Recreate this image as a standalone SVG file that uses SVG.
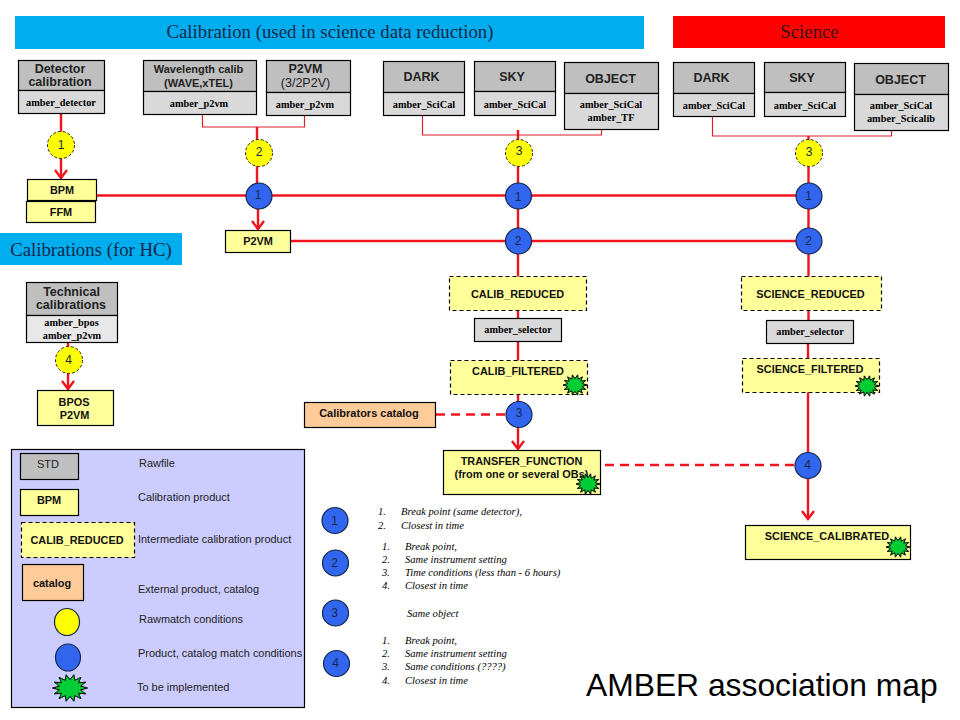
<svg xmlns="http://www.w3.org/2000/svg" xmlns:xlink="http://www.w3.org/1999/xlink" width="960" height="720" viewBox="0 0 960 720">
<style>
text{font-family:"Liberation Sans",Arial,sans-serif;fill:#000}
.m{text-anchor:middle}
.ban{font-family:"Liberation Serif","Times New Roman",serif;font-size:18.8px;fill:#14284b;text-anchor:middle}
.box{stroke:#000;stroke-width:1.2}
.h{fill:#bfbfbf}
.l{fill:#d9d9d9}
.y{fill:#ffff99}
.d{stroke-dasharray:4 3}
.o{fill:#ffcc99}
.hd{font-size:12.5px;font-weight:bold;fill:#222;text-anchor:middle}
.hw{font-size:11px;font-weight:bold;fill:#222;text-anchor:middle}
.tool{font-family:"Liberation Serif","Times New Roman",serif;font-size:10.3px;font-weight:bold;text-anchor:middle}
.p{font-size:10.9px;font-weight:bold;text-anchor:middle;fill:#111}
.ci{stroke:#14284b;stroke-width:1.2}
.yc{fill:#ffff00;stroke:#222;stroke-width:1;stroke-dasharray:3 2}
.bc{fill:#3366ee}
.n{font-size:12px;fill:#14284b;text-anchor:middle}
.leg{font-size:10.95px;fill:#222}
.it{font-family:"Liberation Serif","Times New Roman",serif;font-size:10.6px;font-style:italic}
.r{stroke:#f0141e;stroke-width:2.4;fill:none}
.t{stroke:#e0202a;stroke-width:1.2;fill:none}
.da{stroke-dasharray:9 6}
.star{fill:#00cc33;stroke:#000;stroke-width:1;vector-effect:non-scaling-stroke}
</style>
<defs>
<marker id="a" markerUnits="userSpaceOnUse" markerWidth="16" markerHeight="16" refX="13" refY="8" orient="auto" viewBox="0 0 16 16"><path d="M5,2 L13,8 L5,14" fill="none" stroke="#f0141e" stroke-width="2.4"/></marker>
<polygon id="s" class="star" points="13,0 7.9,1.8 11.7,5.6 6.3,5 8.1,10.2 3.5,7.3 2.9,12.7 0,8 -2.9,12.7 -3.5,7.3 -8.1,10.2 -6.3,5 -11.7,5.6 -7.9,1.8 -13,0 -7.9,-1.8 -11.7,-5.6 -6.3,-5 -8.1,-10.2 -3.5,-7.3 -2.9,-12.7 0,-8 2.9,-12.7 3.5,-7.3 8.1,-10.2 6.3,-5 11.7,-5.6 7.9,-1.8"/>
</defs>
<rect width="960" height="720" fill="#fff"/>

<g id="banners">
<g id="banner-calibration"><rect x="15" y="16" width="629" height="33" fill="#00aeef"/><text class="ban" x="330" y="38">Calibration (used in science data reduction)</text></g>
<g id="banner-science"><rect x="673" y="16" width="272" height="32" fill="#ff0000"/><text class="ban" x="809.500" y="38" style="fill:#3a1010">Science</text></g>
<g id="banner-hc"><rect x="0" y="233" width="182" height="32" fill="#00aeef"/><text class="ban" x="91" y="256">Calibrations (for HC)</text></g>
</g>

<g id="connectors">
<path class="r" d="M61,113V178" marker-end="url(#a)"/>
<path class="t" d="M202.500,114V127H304.500V115"/>
<path class="r" d="M257,127V196"/>
<path class="r" d="M258,196V229" marker-end="url(#a)"/>
<path class="r" d="M96,195.500H808"/>
<path class="r" d="M290,241H808"/>
<path class="t" d="M422.500,115V135H601.500V129"/>
<path class="r" d="M518,130V449" marker-end="url(#a)"/>
<path class="r da" d="M436,414.500H505"/>
<path class="t" d="M712.500,116V136H891.500V130"/>
<path class="r" d="M808.500,136V320"/>
<path class="r" d="M808,343V519" marker-end="url(#a)"/>
<path class="r da" d="M605,465H795"/>
<path class="r" d="M68,343V389" marker-end="url(#a)"/>
</g>

<g id="n-detector"><rect class="box h" x="18.500" y="60.500" width="86" height="30"/><rect class="box l" x="18.500" y="90.500" width="86" height="23"/><text class="hd" x="60" y="72.500">Detector</text><text class="hd" x="60" y="86">calibration</text><text class="tool" x="61" y="106">amber_detector</text></g>
<g id="n-wave"><rect class="box h" x="143.500" y="60.500" width="113" height="31"/><rect class="box l" x="143.500" y="91.500" width="113" height="23"/><text class="hw" x="198.500" y="73">Wavelength calib</text><text class="hw" x="198.500" y="87">(WAVE,xTEL)</text><text class="tool" x="199" y="107">amber_p2vm</text></g>
<g id="n-p2vm-raw"><rect class="box h" x="266.500" y="60.500" width="84" height="32"/><rect class="box l" x="266.500" y="92.500" width="84" height="23"/><text class="hd" x="305.500" y="73">P2VM</text><text class="hd" x="305.500" y="87" style="font-weight:normal">(3/2P2V)</text><text class="tool" x="305" y="108">amber_p2vm</text></g>
<g id="n-dark1"><rect class="box h" x="383.500" y="61.500" width="81" height="31"/><rect class="box l" x="383.500" y="92.500" width="81" height="23"/><text class="hd" x="421.500" y="81">DARK</text><text class="tool" x="424" y="108">amber_SciCal</text></g>
<g id="n-sky1"><rect class="box h" x="474.500" y="61.500" width="81" height="30"/><rect class="box l" x="474.500" y="91.500" width="81" height="24"/><text class="hd" x="512" y="81">SKY</text><text class="tool" x="515" y="108">amber_SciCal</text></g>
<g id="n-obj1"><rect class="box h" x="564.500" y="62.500" width="94" height="31"/><rect class="box l" x="564.500" y="93.500" width="94" height="36"/><text class="hd" x="610.500" y="83">OBJECT</text><text class="tool" x="611" y="108">amber_SciCal</text><text class="tool" x="611" y="121">amber_TF</text></g>
<g id="n-dark2"><rect class="box h" x="673.500" y="62.500" width="81" height="31"/><rect class="box l" x="673.500" y="93.500" width="81" height="23"/><text class="hd" x="711.500" y="82">DARK</text><text class="tool" x="714" y="109">amber_SciCal</text></g>
<g id="n-sky2"><rect class="box h" x="764.500" y="62.500" width="81" height="30"/><rect class="box l" x="764.500" y="92.500" width="81" height="24"/><text class="hd" x="802" y="82">SKY</text><text class="tool" x="805" y="109">amber_SciCal</text></g>
<g id="n-obj2"><rect class="box h" x="854.500" y="63.500" width="94" height="31"/><rect class="box l" x="854.500" y="94.500" width="94" height="36"/><text class="hd" x="900.500" y="84">OBJECT</text><text class="tool" x="901" y="109">amber_SciCal</text><text class="tool" x="901" y="122">amber_Scicalib</text></g>

<g id="n-bpm"><rect class="box y" x="27.500" y="179.500" width="69" height="21"/><text class="p" x="62" y="194">BPM</text></g>
<g id="n-ffm"><rect class="box y" x="26.500" y="201.500" width="69" height="21"/><text class="p" x="61" y="216">FFM</text></g>
<g id="n-p2vm"><rect class="box y" x="225.500" y="230.500" width="65" height="22"/><text class="p" x="258" y="245">P2VM</text></g>

<g id="c-y1"><circle class="yc" cx="61" cy="145" r="13.500"/><text class="n" x="61" y="149">1</text></g>
<g id="c-y2"><circle class="yc" cx="259" cy="153" r="13.500"/><text class="n" x="259" y="156">2</text></g>
<g id="c-y3a"><circle class="yc" cx="519" cy="153" r="13.500"/><text class="n" x="519" y="155">3</text></g>
<g id="c-y3b"><circle class="yc" cx="809" cy="153" r="13.500"/><text class="n" x="809" y="156">3</text></g>
<g id="c-b1a"><circle class="ci bc" cx="259" cy="196" r="13"/><text class="n" x="258" y="199">1</text></g>
<g id="c-b1b"><circle class="ci bc" cx="518.500" cy="196" r="13"/><text class="n" x="518" y="201">1</text></g>
<g id="c-b1c"><circle class="ci bc" cx="809" cy="196" r="13"/><text class="n" x="808.500" y="200">1</text></g>
<g id="c-b2a"><circle class="ci bc" cx="518.500" cy="241" r="13"/><text class="n" x="518" y="245">2</text></g>
<g id="c-b2b"><circle class="ci bc" cx="809" cy="241" r="13"/><text class="n" x="808.500" y="245">2</text></g>
<g id="c-b3"><circle class="ci bc" cx="519" cy="414.500" r="13"/><text class="n" x="519" y="417">3</text></g>
<g id="c-b4"><circle class="ci bc" cx="808" cy="465.500" r="13"/><text class="n" x="807.500" y="469">4</text></g>

<g id="n-calib-reduced"><rect class="box y d" x="449.500" y="276.500" width="137" height="34"/><text class="p" x="517.500" y="298">CALIB_REDUCED</text></g>
<g id="n-selector1"><rect class="box" fill="#d9d9d9" x="474.500" y="318.500" width="87" height="23"/><text class="tool" x="518" y="333">amber_selector</text></g>
<g id="n-calib-filtered"><rect class="box y d" x="450.500" y="360.500" width="137" height="34"/><text class="p" x="518" y="375">CALIB_FILTERED</text><use xlink:href="#s" href="#s" transform="translate(575,385) scale(.92,.8)"/></g>
<g id="n-catalog"><rect class="box o" x="304.500" y="402.500" width="131" height="25"/><text class="p" x="369" y="417" style="font-size:11px">Calibrators catalog</text></g>
<g id="n-transfer"><rect class="box y" x="443.500" y="450.500" width="157" height="44"/><text class="p" x="521.500" y="465">TRANSFER_FUNCTION</text><text class="p" x="521.500" y="478">(from one or several OBs)</text><use xlink:href="#s" href="#s" transform="translate(588,484) scale(.92,.8)"/></g>
<g id="n-science-reduced"><rect class="box y d" x="741.500" y="276.500" width="140" height="34"/><text class="p" x="810.500" y="298">SCIENCE_REDUCED</text></g>
<g id="n-selector2"><rect class="box" fill="#d9d9d9" x="766.500" y="320.500" width="87" height="23"/><text class="tool" x="810" y="335">amber_selector</text></g>
<g id="n-science-filtered"><rect class="box y d" x="742.500" y="358.500" width="137" height="34"/><text class="p" x="810" y="373">SCIENCE_FILTERED</text><use xlink:href="#s" href="#s" transform="translate(867,386) scale(.92,.8)"/></g>
<g id="n-science-calibrated"><rect class="box y" x="745.500" y="525.500" width="165" height="34"/><text class="p" x="827" y="540">SCIENCE_CALIBRATED</text><use xlink:href="#s" href="#s" transform="translate(898,547) scale(.92,.8)"/></g>

<g id="n-technical"><rect class="box h" x="26.500" y="282.500" width="91" height="33"/><rect class="box" fill="#e8e8e8" x="26.500" y="315.500" width="91" height="27"/><text class="hd" x="71.500" y="296">Technical</text><text class="hd" x="71" y="309">calibrations</text><text class="tool" x="71.500" y="326">amber_bpos</text><text class="tool" x="72" y="339">amber_p2vm</text></g>
<g id="c-y4"><circle class="yc" cx="69" cy="360" r="13.500"/><text class="n" x="68.500" y="364">4</text></g>
<g id="n-bpos"><rect class="box y" x="37.500" y="390.500" width="76" height="35"/><text class="p" x="74" y="406">BPOS</text><text class="p" x="74.500" y="419">P2VM</text></g>

<g id="legend">
<rect x="11.500" y="449.500" width="293" height="258" fill="#ccccff" stroke="#000" stroke-width="1.200"/>
<rect class="box h" x="20.500" y="453.500" width="58" height="26"/><text class="m" x="48" y="468" style="font-size:11px;fill:#222">STD</text>
<rect class="box y" x="20.500" y="489.500" width="58" height="26"/><text class="p" x="49" y="504">BPM</text>
<rect class="box y d" x="21.500" y="522.500" width="113" height="35"/><text class="p" x="77" y="544">CALIB_REDUCED</text>
<rect class="box o" x="22.500" y="564.500" width="61" height="36"/><text class="p" x="52" y="587">catalog</text>
<ellipse class="ci" fill="#ffff00" cx="67" cy="622" rx="12.500" ry="13.500"/>
<ellipse class="ci bc" cx="68" cy="657.500" rx="12.500" ry="13.500"/>
<use xlink:href="#s" href="#s" transform="translate(70,688) scale(1.35,1.05)"/>
<text class="leg" x="139" y="467">Rawfile</text>
<text class="leg" x="138" y="501">Calibration product</text>
<text class="leg" x="138" y="543">Intermediate calibration product</text>
<text class="leg" x="138" y="593">External product, catalog</text>
<text class="leg" x="139" y="623">Rawmatch conditions</text>
<text class="leg" x="138" y="657">Product, catalog match conditions</text>
<text class="leg" x="137" y="691">To be implemented</text>
</g>

<g id="conditions">
<g id="k1"><circle class="ci bc" cx="335" cy="520.500" r="13"/><text class="n" x="334.500" y="525">1</text>
<text class="it" x="378" y="515">1.</text><text class="it" x="401" y="515">Break point (same detector),</text>
<text class="it" x="378" y="529">2.</text><text class="it" x="401" y="529">Closest in time</text></g>
<g id="k2"><circle class="ci bc" cx="335.500" cy="563" r="13"/><text class="n" x="334.500" y="567">2</text>
<text class="it" x="382" y="550">1.</text><text class="it" x="405" y="550">Break point,</text>
<text class="it" x="382" y="563">2.</text><text class="it" x="405" y="563">Same instrument setting</text>
<text class="it" x="382" y="576">3.</text><text class="it" x="405" y="576">Time conditions (less than - 6 hours)</text>
<text class="it" x="382" y="589">4.</text><text class="it" x="405" y="589">Closest in time</text></g>
<g id="k3"><circle class="ci bc" cx="335.500" cy="613" r="13"/><text class="n" x="334.500" y="617">3</text>
<text class="it" x="407" y="617">Same object</text></g>
<g id="k4"><circle class="ci bc" cx="336.500" cy="663.500" r="13"/><text class="n" x="335.500" y="667">4</text>
<text class="it" x="382" y="644">1.</text><text class="it" x="405" y="644">Break point,</text>
<text class="it" x="382" y="657">2.</text><text class="it" x="405" y="657">Same instrument setting</text>
<text class="it" x="382" y="670">3.</text><text class="it" x="405" y="670">Same conditions (????)</text>
<text class="it" x="382" y="684">4.</text><text class="it" x="405" y="684">Closest in time</text></g>
</g>

<text id="title" x="586" y="696" style="font-size:31.800px;fill:#000">AMBER association map</text>
</svg>
